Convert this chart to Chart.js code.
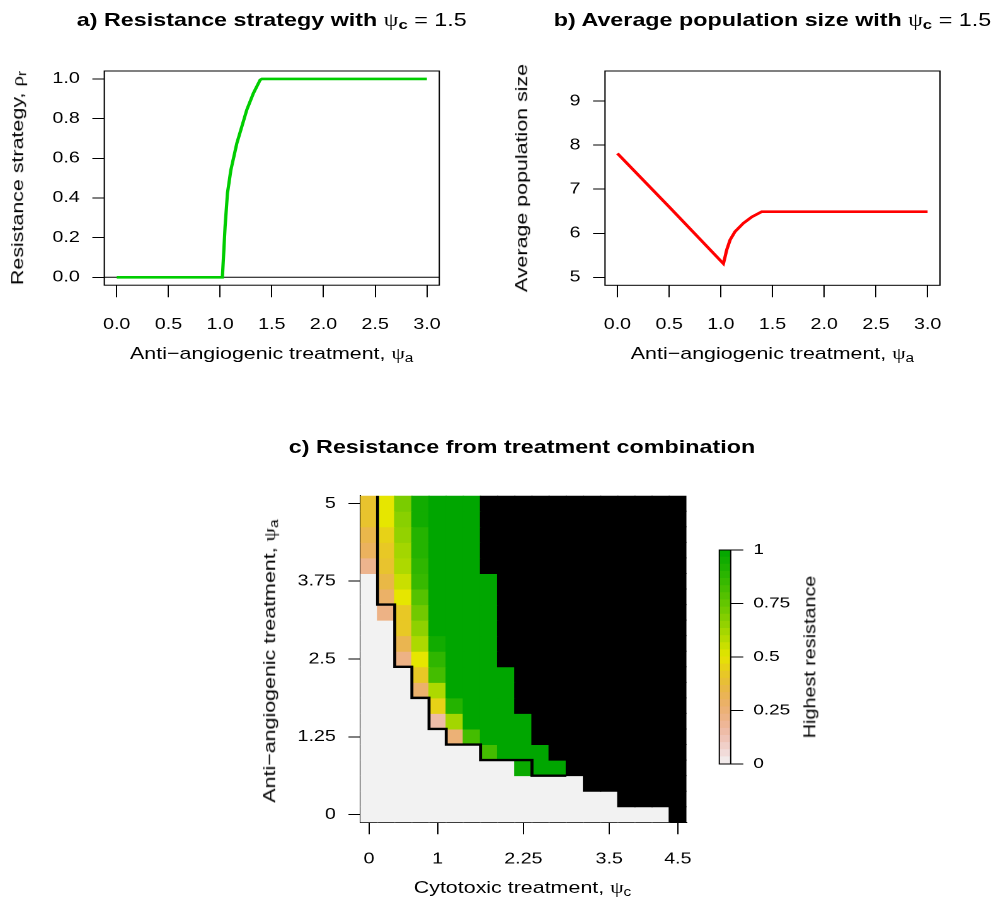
<!DOCTYPE html>
<html>
<head>
<meta charset="utf-8">
<script src="https://cdn.jsdelivr.net/npm/chart.js@4.4.0/dist/chart.umd.min.js"></script>
<style>
  html, body { margin: 0; padding: 0; background: #fff; }
  body { width: 995px; height: 903px; overflow: hidden; position: relative; }
  /* the reference text is wide, so the whole page is drawn narrow and stretched */
  #page { position: absolute; left: 0; top: 0; width: 790px; height: 903px;
          transform: scaleX(1.26); transform-origin: 0 0;
          font-family: "Liberation Sans", Arial, Helvetica, sans-serif; color: #000; }
  .holder { position: absolute; }
  .holder canvas { display: block; }
  .txt { position: absolute; white-space: nowrap; line-height: 1; transform: translate(-50%, -50%); }
  .rot { transform: translate(-50%, -50%) rotate(-90deg) scale(1.26, 0.7937); }
  .main { font-size: 18.5px; font-weight: bold; }
  .lab { font-size: 17px; }
  .gr { font-family: "Liberation Serif", "DejaVu Serif", serif; font-weight: normal; }
  .nb { font-weight: normal; }
  sub { font-size: 72%; vertical-align: -0.28em; line-height: 0; }
</style>
</head>
<body>
<div id="page">
  <div class="holder" style="left:0px;top:0px;width:390px;height:390px"><canvas id="chartA" width="390" height="390"></canvas></div>
  <div class="holder" style="left:395px;top:0px;width:395px;height:390px"><canvas id="chartB" width="395" height="390"></canvas></div>
  <div class="holder" style="left:200px;top:440px;width:370px;height:463px"><canvas id="chartC" width="370" height="463"></canvas></div>
  <div class="holder" style="left:560px;top:530px;width:100px;height:260px"><canvas id="chartLegend" width="100" height="260"></canvas></div>

  <div class="txt main" style="left:215.7px;top:20px">a) Resistance strategy with <span class="gr">ψ</span><sub>c</sub><span class="nb"> = 1.5</span></div>
  <div class="txt main" style="left:613.1px;top:20px">b) Average population size with <span class="gr">ψ</span><sub>c</sub><span class="nb"> = 1.5</span></div>
  <div class="txt main" style="left:414.3px;top:447px">c) Resistance from treatment combination</div>

  <div class="txt lab" style="left:215.7px;top:353px">Anti−angiogenic treatment, <span class="gr">ψ</span><sub>a</sub></div>
  <div class="txt lab" style="left:613.1px;top:353px">Anti−angiogenic treatment, <span class="gr">ψ</span><sub>a</sub></div>
  <div class="txt lab rot" style="left:14.3px;top:178px">Resistance strategy, <span class="gr">ρ</span><sub>r</sub></div>
  <div class="txt lab rot" style="left:414.3px;top:178px">Average population size</div>

  <div class="txt lab" style="left:414.7px;top:887px">Cytotoxic treatment, <span class="gr">ψ</span><sub>c</sub></div>
  <div class="txt lab rot" style="left:214.3px;top:661px">Anti−angiogenic treatment, <span class="gr">ψ</span><sub>a</sub></div>
  <div class="txt rot" style="left:642.9px;top:657px;font-size:15.7px">Highest resistance</div>
</div>

<script>
// panel a: resistance strategy against anti-angiogenic treatment
const strategyX = [0, 0.5, 1.0, 1.022, 1.048, 1.071, 1.104, 1.162, 1.21, 1.258, 1.322, 1.387, 1.404, 2.0, 3.0];
const strategyY = [0, 0, 0, 0, 0.255, 0.424, 0.541, 0.676, 0.76, 0.844, 0.928, 0.995, 1.0, 1.0, 1.0];

// panel b: average population size
const popX = [0, 0.5, 1.025, 1.058, 1.09, 1.138, 1.219, 1.3, 1.396, 2.0, 3.0];
const popY = [7.81, 6.6, 5.31, 5.63, 5.85, 6.04, 6.23, 6.37, 6.49, 6.49, 6.49];

const xTicksAB = [0, 0.5, 1, 1.5, 2, 2.5, 3];
const yTicksA = [0, 0.2, 0.4, 0.6, 0.8, 1.0];
const yTicksB = [5, 6, 7, 8, 9];

// panel c: highest resistance for each treatment combination (null = black cell)
const psiC = [0, 0.25, 0.5, 0.75, 1, 1.25, 1.5, 1.75, 2, 2.25, 2.5, 2.75, 3, 3.25, 3.5, 3.75, 4, 4.25, 4.5];
const psiA = [5, 4.75, 4.5, 4.25, 4, 3.75, 3.5, 3.25, 3, 2.75, 2.5, 2.25, 2, 1.75, 1.5, 1.25, 1, 0.75, 0.5, 0.25, 0];
const N = null;
const resistance = [
  [0.4, 0.5, 0.7, 0.95, 1, 1, 1, N, N, N, N, N, N, N, N, N, N, N, N],
  [0.4, 0.5, 0.67, 0.95, 1, 1, 1, N, N, N, N, N, N, N, N, N, N, N, N],
  [0.34, 0.45, 0.65, 0.9, 1, 1, 1, N, N, N, N, N, N, N, N, N, N, N, N],
  [0.3, 0.42, 0.62, 0.9, 1, 1, 1, N, N, N, N, N, N, N, N, N, N, N, N],
  [0.2, 0.4, 0.6, 0.87, 1, 1, 1, N, N, N, N, N, N, N, N, N, N, N, N],
  [0, 0.35, 0.55, 0.85, 1, 1, 1, 1, N, N, N, N, N, N, N, N, N, N, N],
  [0, 0.28, 0.5, 0.78, 1, 1, 1, 1, N, N, N, N, N, N, N, N, N, N, N],
  [0, 0.22, 0.42, 0.72, 1, 1, 1, 1, N, N, N, N, N, N, N, N, N, N, N],
  [0, 0, 0.42, 0.66, 1, 1, 1, 1, N, N, N, N, N, N, N, N, N, N, N],
  [0, 0, 0.33, 0.6, 0.95, 1, 1, 1, N, N, N, N, N, N, N, N, N, N, N],
  [0, 0, 0.22, 0.5, 0.87, 1, 1, 1, N, N, N, N, N, N, N, N, N, N, N],
  [0, 0, 0, 0.42, 0.82, 1, 1, 1, 1, N, N, N, N, N, N, N, N, N, N],
  [0, 0, 0, 0.27, 0.6, 1, 1, 1, 1, N, N, N, N, N, N, N, N, N, N],
  [0, 0, 0, 0, 0.45, 0.9, 1, 1, 1, N, N, N, N, N, N, N, N, N, N],
  [0, 0, 0, 0, 0.15, 0.62, 1, 1, 1, 1, N, N, N, N, N, N, N, N, N],
  [0, 0, 0, 0, 0, 0.25, 0.82, 1, 1, 1, N, N, N, N, N, N, N, N, N],
  [0, 0, 0, 0, 0, 0, 0, 0.82, 1, 1, 1, N, N, N, N, N, N, N, N],
  [0, 0, 0, 0, 0, 0, 0, 0, 0, 0.97, 1, 1, N, N, N, N, N, N, N],
  [0, 0, 0, 0, 0, 0, 0, 0, 0, 0, 0, 0, 0, N, N, N, N, N, N],
  [0, 0, 0, 0, 0, 0, 0, 0, 0, 0, 0, 0, 0, 0, 0, N, N, N, N],
  [0, 0, 0, 0, 0, 0, 0, 0, 0, 0, 0, 0, 0, 0, 0, 0, 0, 0, N]
];
// lowest psi_a cell above the black boundary line, per psi_c column
const contourA = [null, 3.5, 2.5, 2.0, 1.5, 1.25, 1.25, 1.0, 1.0, 1.0, 0.75, 0.75];
const xTicksC = [0, 1, 2.25, 3.5, 4.5];
const yTicksC = [0, 1.25, 2.5, 3.75, 5];
const legendTicks = [0, 0.25, 0.5, 0.75, 1];
const legendSteps = 30;

Chart.defaults.font.family = '"Liberation Sans", Arial, Helvetica, sans-serif';
Chart.defaults.font.size = 15.6;
Chart.defaults.color = '#000';

// reversed terrain colours: grey -> peach -> yellow -> green
function hsv(h, s, v) {
  const i = Math.floor(h * 6), f = h * 6 - i;
  const p = v * (1 - s), q = v * (1 - f * s), t = v * (1 - (1 - f) * s);
  const rgb = [[v, t, p], [q, v, p], [p, v, t], [p, q, v], [t, p, v], [v, p, q]][i % 6];
  return '#' + rgb.map(c => Math.round(c * 255).toString(16).padStart(2, '0')).join('');
}
function rampColor(r) {
  if (r >= 0.5) {
    const t = (r - 0.5) / 0.5;
    return hsv(1 / 6 + t / 6, 1, 0.9 - 0.25 * t);
  }
  const t = r / 0.5;
  return hsv(t / 6, t, 0.95 - 0.05 * t);
}

function fixedTicks(values) {
  return axis => { axis.ticks = values.map(v => ({ value: v })); };
}

const boxPlugin = {
  id: 'plotBox',
  afterDatasetsDraw(chart) {
    const { ctx, chartArea: a } = chart;
    ctx.save();
    ctx.strokeStyle = '#000';
    ctx.lineWidth = 1;
    ctx.strokeRect(a.left, a.top, a.right - a.left, a.bottom - a.top);
    ctx.restore();
  }
};

const common = {
  responsive: false,
  animation: false,
  devicePixelRatio: 2,
  events: [],
  plugins: { legend: { display: false }, tooltip: { enabled: false } }
};

function lineAxes(xMin, xMax, yMin, yMax, yTicks, yFmt, yWidth, xHeight) {
  return {
    x: {
      type: 'linear', min: xMin, max: xMax,
      afterBuildTicks: fixedTicks(xTicksAB),
      afterFit: s => { s.height = xHeight; },
      grid: { drawOnChartArea: false, tickLength: 12, tickColor: '#000', tickWidth: 1 },
      border: { display: false },
      ticks: { padding: 18, maxRotation: 0, autoSkip: false, callback: v => v.toFixed(1) }
    },
    y: {
      type: 'linear', min: yMin, max: yMax,
      afterBuildTicks: fixedTicks(yTicks),
      afterFit: s => { s.width = yWidth; },
      grid: { drawOnChartArea: false, tickLength: 9.5, tickColor: '#000', tickWidth: 1 },
      border: { display: false },
      ticks: { padding: 10, autoSkip: false, callback: yFmt }
    }
  };
}

// panel a
new Chart(document.getElementById('chartA'), {
  type: 'line',
  data: {
    datasets: [
      { data: strategyX.map((x, i) => ({ x, y: strategyY[i] })), borderColor: '#00CD00', borderWidth: 2.6, pointRadius: 0, tension: 0, order: 0 },
      { data: [{ x: -0.12, y: 0 }, { x: 3.12, y: 0 }], borderColor: '#000', borderWidth: 1, pointRadius: 0, order: 1 }
    ]
  },
  options: Object.assign({}, common, {
    layout: { padding: { top: 71, right: 41.35, left: 0, bottom: 0 } },
    scales: lineAxes(-0.12, 3.12, -0.04, 1.04, yTicksA, v => v.toFixed(1), 82.78, 104.8)
  }),
  plugins: [boxPlugin]
});

// panel b
new Chart(document.getElementById('chartB'), {
  type: 'line',
  data: {
    datasets: [
      { data: popX.map((x, i) => ({ x, y: popY[i] })), borderColor: '#FF0000', borderWidth: 2.6, pointRadius: 0, tension: 0 }
    ]
  },
  options: Object.assign({}, common, {
    layout: { padding: { top: 71, right: 43.97, left: 0, bottom: 0 } },
    scales: lineAxes(-0.12, 3.12, 4.82, 9.68, yTicksB, v => String(v), 85.16, 104.7)
  }),
  plugins: [boxPlugin]
});

// panel c: heat map built from floating bars, one dataset per psi_a row
const halfA = (psiA[0] - psiA[1]) / 2;
const halfC = (psiC[1] - psiC[0]) / 2;
const heatSets = psiA.map((a, ri) => ({
  type: 'bar',
  data: psiC.map(() => [a - halfA, a + halfA]),
  backgroundColor: resistance[ri].map(v => v === null ? '#000000' : rampColor(v)),
  borderWidth: 0,
  barPercentage: 1,
  categoryPercentage: 1,
  grouped: false,
  inflateAmount: 0.5,
  xAxisID: 'x',
  yAxisID: 'y',
  order: 1
}));
const contourPts = [{ x: psiC[1] - halfC, y: psiA[0] + halfA }];
contourA.forEach((a, ci) => {
  if (a === null) return;
  contourPts.push({ x: psiC[ci] - halfC, y: a - halfA }, { x: psiC[ci] + halfC, y: a - halfA });
});
heatSets.push({
  type: 'line', data: contourPts, borderColor: '#000', borderWidth: 2.4,
  pointRadius: 0, tension: 0, xAxisID: 'xv', yAxisID: 'y', order: 0
});

new Chart(document.getElementById('chartC'), {
  type: 'bar',
  data: { labels: psiC.map(String), datasets: heatSets },
  options: Object.assign({}, common, {
    layout: { padding: { top: 55.7, right: 25.24, left: 0, bottom: 0 } },
    scales: {
      x: { type: 'category', display: false, offset: true },
      xv: {
        type: 'linear', position: 'bottom', offset: false,
        min: psiC[0] - halfC, max: psiC[psiC.length - 1] + halfC,
        afterBuildTicks: fixedTicks(xTicksC),
        afterFit: s => { s.height = 80.7; },
        grid: { offset: false, drawOnChartArea: false, tickLength: 12, tickColor: '#000', tickWidth: 1 },
        border: { display: true, color: '#000', width: 1 },
        ticks: { padding: 15.3, maxRotation: 0, autoSkip: false, callback: v => String(v) }
      },
      y: {
        type: 'linear', position: 'left',
        min: psiA[psiA.length - 1] - halfA, max: psiA[0] + halfA,
        afterBuildTicks: fixedTicks(yTicksC),
        afterFit: s => { s.width = 86.03; },
        grid: { drawOnChartArea: false, tickLength: 9.5, tickColor: '#000', tickWidth: 1 },
        border: { display: true, color: '#000', width: 1 },
        ticks: { padding: 10, autoSkip: false, callback: v => String(v) }
      }
    }
  })
});

// colour key
const legendSets = [];
for (let i = 0; i < legendSteps; i++) {
  legendSets.push({
    data: [1 / legendSteps],
    backgroundColor: rampColor((i + 0.5) / legendSteps),
    borderWidth: 0, barPercentage: 1, categoryPercentage: 1, inflateAmount: 0.5
  });
}
new Chart(document.getElementById('chartLegend'), {
  type: 'bar',
  data: { labels: [''], datasets: legendSets },
  options: Object.assign({}, common, {
    layout: { padding: { top: 20, right: 0, left: 10.87, bottom: 26 } },
    scales: {
      x: { display: false, stacked: true },
      y: {
        stacked: true, position: 'right', min: 0, max: 1,
        afterBuildTicks: fixedTicks(legendTicks),
        afterFit: s => { s.width = 80.08; },
        grid: { drawOnChartArea: false, tickLength: 10, tickColor: '#000', tickWidth: 1 },
        border: { display: false },
        ticks: { padding: 8, font: { size: 15 }, autoSkip: false, callback: v => String(v) }
      }
    }
  }),
  plugins: [boxPlugin]
});
</script>
</body>
</html>
